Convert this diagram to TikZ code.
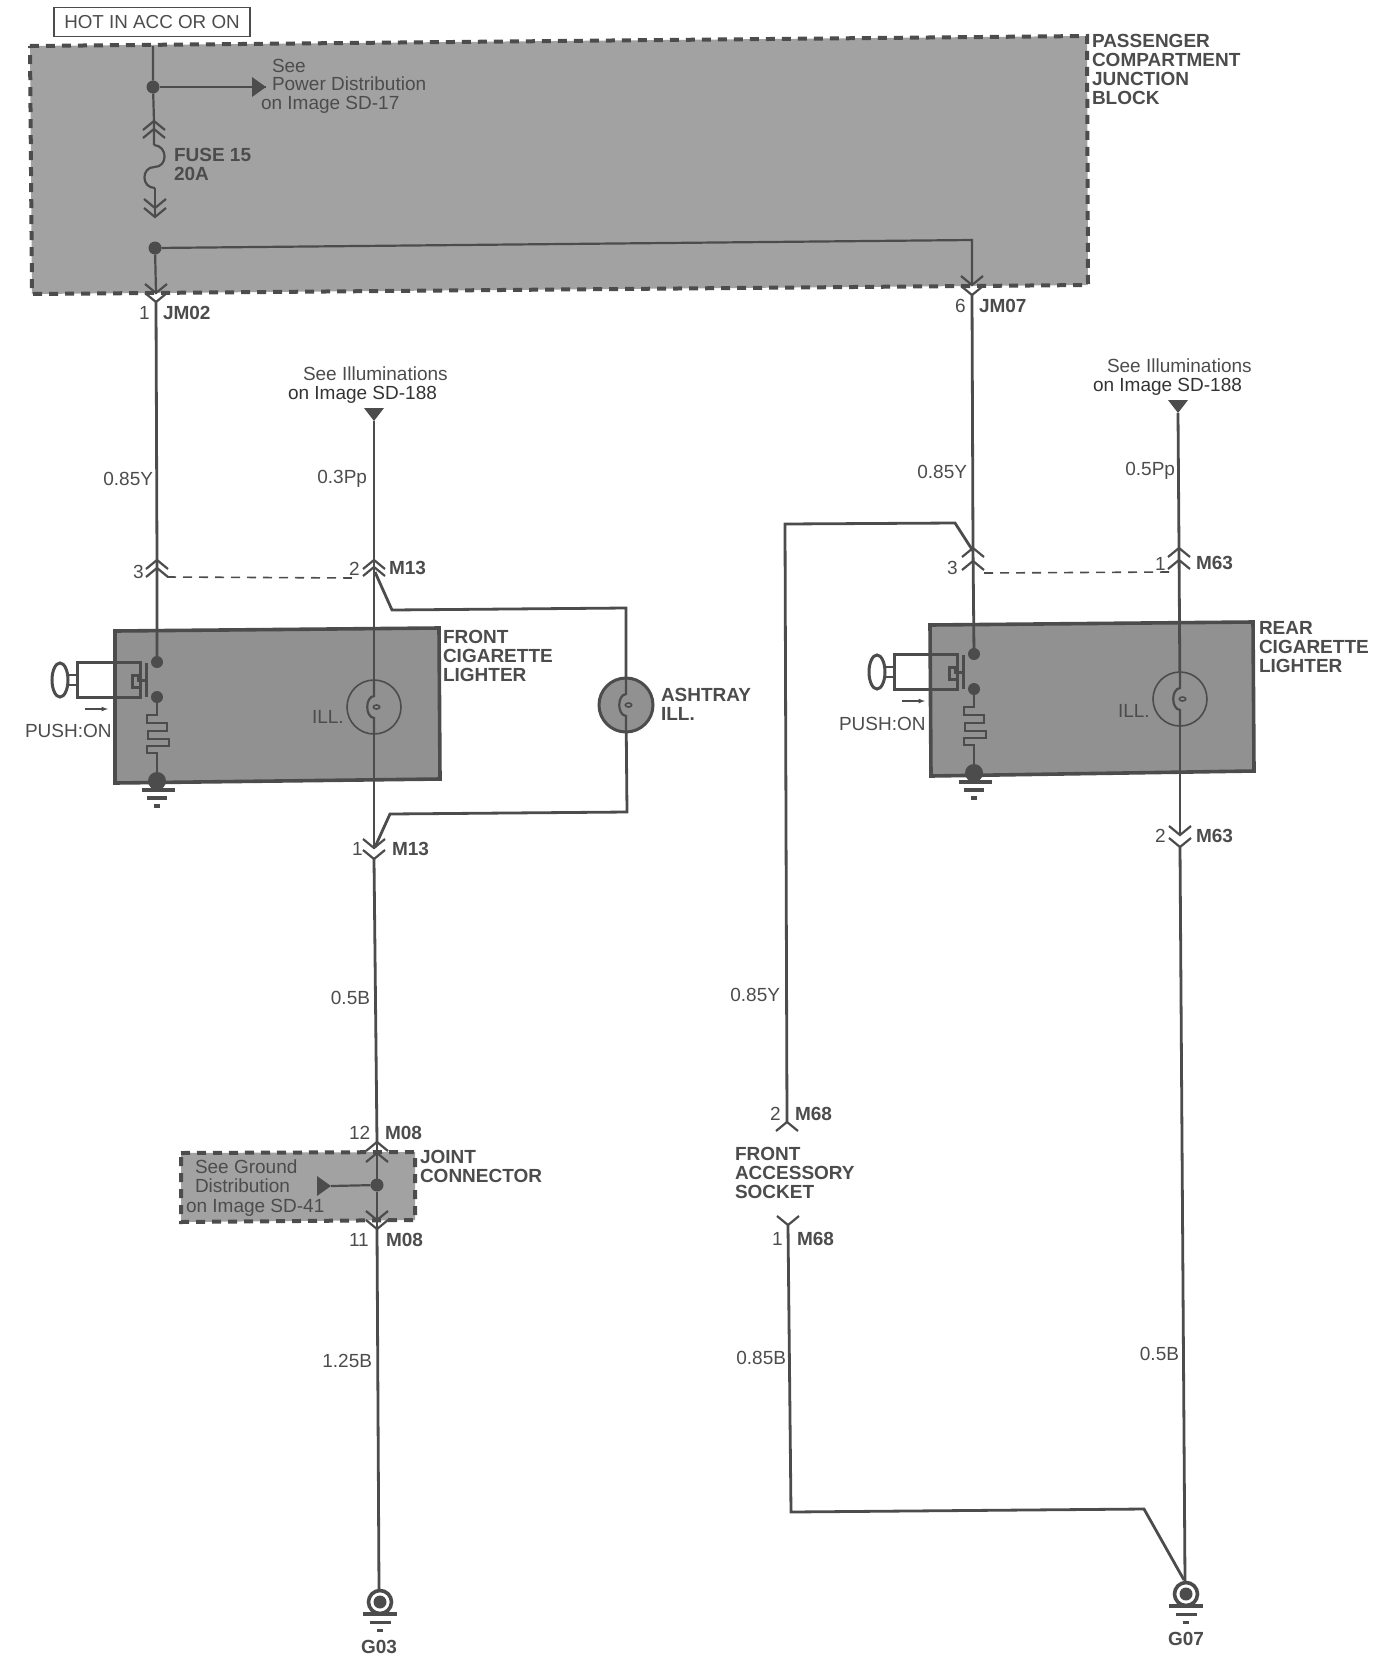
\documentclass[tikz,border=0pt]{standalone}
\usepackage{fontspec}
\setmainfont{Liberation Sans}
\definecolor{wirecol}{HTML}{4C4C4C}
\definecolor{txtcol}{HTML}{4C4C4C}
\definecolor{jbcol}{HTML}{A2A2A2}
\definecolor{boxcol}{HTML}{919191}
\begin{document}
\begin{tikzpicture}[x=1pt,y=-1pt]
\tikzset{ >=latex, inner sep=0pt, outer sep=0pt,
  wire/.style={draw=wirecol, line width=2.8pt},
  wirein/.style={draw=wirecol, line width=2.2pt},
  dash1/.style={draw=wirecol, line width=1.6pt, dash pattern=on 9pt off 7pt},
  jblock/.style={fill=jbcol, draw=wirecol, line width=4pt, dash pattern=on 9pt off 7pt},
  cigbox/.style={fill=boxcol, draw=wirecol, line width=3.6pt},
  dot/.style={circle, fill=wirecol, minimum size=13pt},
  lampc/.style={circle, draw=wirecol, line width=1.6pt, minimum size=54pt},
  lbl/.style={anchor=base west, text=txtcol, font=\fontsize{19}{19}\selectfont},
  lblr/.style={anchor=base east, text=txtcol, font=\fontsize{19}{19}\selectfont},
  blbl/.style={anchor=base west, text=txtcol, font=\fontsize{19}{19}\selectfont\bfseries},
  blk/.style={anchor=north west, align=left, text=txtcol, font=\fontsize{19}{19}\selectfont\bfseries},
  chevup/.pic={\draw[wirein] (-11,9)--(0,0)--(11,9);},
  chevdn/.pic={\draw[wirein] (-11,-9)--(0,0)--(11,-9);},
  tridn/.pic={\fill[wirecol] (-10,-13)--(10,-13)--(0,0)--cycle;},
  trirt/.pic={\fill[wirecol] (-14,-10)--(-14,10)--(0,0)--cycle;},
  filament/.pic={
    \draw[wirein] (0,-27)--(0,-11) .. controls (-9,-10) and (-9,10) .. (0,11)--(0,27);
    \draw[wirecol, line width=1.6pt] (2.5,0) ellipse (3.2 and 2);},
  gnd/.pic={
    \draw[wirecol, line width=3.6pt] (0,0) circle (11.5);
    \fill[wirecol] (0,0) circle (6.5);
    \draw[wirecol, line width=3.8pt] (-17,12)--(17,12);
    \draw[wirecol, line width=3pt] (-10.5,20)--(10.5,20);
    \draw[wirecol, line width=3pt] (-3,28)--(3,28);},
  lighter/.pic={
    \draw[wirein] (0,35)--(0,53)--(-10,53)--(-10,61)--(10,61)--(10,69)--(-9,69)--(-9,77)
      --(12,77)--(12,84)--(-10,84)--(-10,91)--(0,91)--(0,119);
    \fill[wirecol] (0,0) circle (6) (0,35) circle (6) (0,119) circle (9);
    \draw[wirecol, line width=4pt] (-15,128)--(18,128);
    \draw[wirecol, line width=3.2pt] (-10,136)--(10,136);
    \draw[wirecol, line width=3.2pt] (-3,144)--(3,144);
    \draw[wirecol, line width=3pt] (-17,0)--(-80,0)--(-80,35)--(-17,35)--cycle;
    \draw[wirecol, line width=3pt] (-11,1)--(-11,35);
    \draw[wirecol, line width=3pt] (-11,18)--(-19,18)--(-19,13)--(-25,13)--(-25,25)--(-17,25);
    \draw[wirecol, line width=2.6pt] (-89,13)--(-80,13) (-89,23)--(-80,23);
    \draw[wirecol, line width=3pt] (-97,18) ellipse (8 and 17);
    \draw[->, wirecol, line width=1.2pt] (-72,47)--(-49,47);},
}

%\draw [lightgray, dashed](0,0) grid (1389,1668);
\useasboundingbox (0,0) rectangle (1389,1668);

% grey blocks
\draw [jblock] (30,46)--(1087,36)--(1088,285)--(32,294)--cycle;
\draw [cigbox] (115,631)--(439,628)--(440,779)--(115,783)--cycle;
\draw [cigbox] (930,625)--(1253,622)--(1254,771)--(931,776)--cycle;
\draw [jblock] (181,1153)--(415,1152)--(415,1220)--(181,1222)--cycle;

% labels
\node [draw=wirecol, line width=1.6pt, minimum width=196pt, minimum height=29pt, text=txtcol,
  font=\fontsize{18.8}{20}\selectfont] (HOT) at (152,22) {HOT IN ACC OR ON};

\node [lbl] (S1) at (272,72) {See};
\node [lbl] (S2) at (272,90) {Power Distribution};
\node [lbl] (S3) at (261,109) {on Image SD-17};
\node [blk] (FUSE) at (174,148) {FUSE 15\\20A};
\node [blk] (PCJB) at (1092,34) {PASSENGER\\COMPARTMENT\\JUNCTION\\BLOCK};

\node [lbl] (N1) at (139,319) {1};
\node [blbl] (JM02) at (163,319) {JM02};
\node [lbl] (N6) at (955,312) {6};
\node [blbl] (JM07) at (979,312) {JM07};

\node [lbl] (I1) at (303,380) {See Illuminations};
\node [lbl, text=black!80] (I2) at (288,399) {on Image SD-188};
\node [lbl] (I3) at (1107,372) {See Illuminations};
\node [lbl, text=black!80] (I4) at (1093,391) {on Image SD-188};

\node [lblr] (W1) at (153,485) {0.85Y};
\node [lblr] (W2) at (367,483) {0.3Pp};
\node [lblr] (W3) at (967,478) {0.85Y};
\node [lblr] (W4) at (1175,475) {0.5Pp};
\node [lblr] (W5) at (370,1004) {0.5B};
\node [lblr] (W6) at (780,1001) {0.85Y};
\node [lblr] (W7) at (372,1367) {1.25B};
\node [lblr] (W8) at (786,1364) {0.85B};
\node [lblr] (W9) at (1179,1360) {0.5B};

\node [lbl] (N3) at (133,578) {3};
\node [lbl] (N2) at (349,575) {2};
\node [blbl] (M13a) at (389,574) {M13};
\node [lbl] (N3r) at (947,574) {3};
\node [lbl] (N1r) at (1155,570) {1};
\node [blbl] (M63a) at (1196,569) {M63};

\node [blk] (FCL) at (443,630) {FRONT\\CIGARETTE\\LIGHTER};
\node [blk] (RCL) at (1259,621) {REAR\\CIGARETTE\\LIGHTER};
\node [blk] (ASH) at (661,688) {ASHTRAY\\ILL.};
\node [lbl] (ILLf) at (312,723) {ILL.};
\node [lbl] (ILLr) at (1118,717) {ILL.};
\node [lbl] (PUf) at (25,737) {PUSH:ON};
\node [lbl] (PUr) at (839,730) {PUSH:ON};

\node [lbl] (N1b) at (352,855) {1};
\node [blbl] (M13b) at (392,855) {M13};
\node [lbl] (N2b) at (1155,842) {2};
\node [blbl] (M63b) at (1196,842) {M63};

\node [lbl] (N12) at (349,1139) {12};
\node [blbl] (M08a) at (385,1139) {M08};
\node [lbl] (N11) at (349,1246) {11};
\node [blbl] (M08b) at (386,1246) {M08};
\node [blk] (JC) at (420,1150) {JOINT\\CONNECTOR};
\node [lbl] (G1) at (195,1173) {See Ground};
\node [lbl] (G2) at (195,1192) {Distribution};
\node [lbl] (G3) at (186,1212) {on Image SD-41};

\node [lbl] (N2m) at (770,1120) {2};
\node [blbl] (M68a) at (795,1120) {M68};
\node [blk] (FAS) at (735,1147) {FRONT\\ACCESSORY\\SOCKET};
\node [lbl] (N1m) at (772,1245) {1};
\node [blbl] (M68b) at (797,1245) {M68};

\node [blbl, anchor=base] (G03) at (379,1653) {G03};
\node [blbl, anchor=base] (G07) at (1186,1645) {G07};

% junction block wiring
\node [dot] (D1) at (153,87) {};
\node [dot] (D2) at (155,248) {};
\coordinate (TOP) at (153,46);
\coordinate (ARR1) at (266,87);
\coordinate (F1) at (154,121);
\coordinate (F2) at (154,145);
\coordinate (F3) at (155,188);
\coordinate (F4) at (155,217);
\coordinate (JA) at (156,293);
\coordinate (JB) at (156,302);
\coordinate (KA) at (972,285);
\coordinate (KB) at (972,295);
\coordinate (KC) at (972,240);

\draw [wirein] (TOP)--(D1)--(F1)--(F2);
\draw [wirein] (F2) .. controls (168,146) and (168,167) .. (154.5,167) .. controls (141,167) and (141,188) .. (F3);
\draw [wirein] (F3)--(F4);
\draw [wirein] (D2)--(JA);
\draw [wirein] (D2)--(KC)--(KA);
\draw [wirein] (D1)--(ARR1);
\pic at (ARR1) {trirt};
\pic at (F1) {chevup};
\pic at (154,129) {chevup};
\pic at (155,208) {chevdn};
\pic at (F4) {chevdn};
\pic at (JA) {chevdn};
\pic at (JB) {chevdn};
\pic at (KA) {chevdn};
\pic at (KB) {chevdn};

% front lighter
\coordinate (A3) at (157,560);
\coordinate (A4) at (157,662);
\coordinate (B1) at (374,421);
\coordinate (B2) at (374,560);
\coordinate (B3) at (374,848);
\coordinate (B4) at (374,859);
\node [lampc] (LF) at (374,707) {};
\node [lampc, fill=boxcol, line width=3pt] (LA) at (626,705) {};
\coordinate (E1) at (375,572);
\coordinate (E2) at (392,610);
\coordinate (E3) at (626,608);
\coordinate (E4) at (627,812);
\coordinate (E5) at (390,814);
\coordinate (E6) at (375,847);
\coordinate (H1) at (167,577);
\coordinate (H2) at (355,578);

\draw [wire] (JB)--(A3)--(A4);
\draw [wire] (B1)--(B2)--(LF);
\draw [wire] (LF)--(B3);
\draw [wire] (E1)--(E2)--(E3)--(LA);
\draw [wire] (LA)--(E4)--(E5)--(E6);
\draw [dash1] (H1)--(H2);
\pic at (LF) {filament};
\pic at (LA) {filament};
\pic at (A4) {lighter};
\pic at (B1) {tridn};
\pic at (A3) {chevup};
\pic at (157,568) {chevup};
\pic at (B2) {chevup};
\pic at (374,567) {chevup};
\pic at (B3) {chevdn};
\pic at (B4) {chevdn};

% rear lighter
\coordinate (R3) at (973,548);
\coordinate (R4) at (974,654);
\coordinate (Q1) at (1178,413);
\coordinate (Q2) at (1179,548);
\coordinate (Q3) at (1180,835);
\coordinate (Q4) at (1180,847);
\node [lampc] (LR) at (1180,699) {};
\coordinate (P1) at (973,551);
\coordinate (P2) at (955,523);
\coordinate (P3) at (785,524);
\coordinate (P4) at (787,1122);
\coordinate (H3) at (984,573);
\coordinate (H4) at (1169,572);

\draw [wire] (KB)--(R3)--(R4);
\draw [wire] (Q1)--(Q2)--(LR);
\draw [wire] (LR)--(Q3);
\draw [wire] (P1)--(P2)--(P3)--(P4);
\draw [dash1] (H3)--(H4);
\pic at (LR) {filament};
\pic at (R4) {lighter};
\pic at (Q1) {tridn};
\pic at (R3) {chevup};
\pic at (973,561) {chevup};
\pic at (Q2) {chevup};
\pic at (1179,560) {chevup};
\pic at (Q3) {chevdn};
\pic at (Q4) {chevdn};

% accessory socket
\coordinate (S4) at (788,1225);
\coordinate (S5) at (791,1512);
\coordinate (S6) at (1144,1509);
\coordinate (S7) at (1184,1580);
\pic at (P4) {chevup};
\pic at (S4) {chevdn};
\draw [wire] (S4)--(S5)--(S6)--(S7);

% joint connector
\coordinate (C1) at (377,1142);
\coordinate (C2) at (377,1153);
\coordinate (C3) at (377,1220);
\coordinate (C4) at (377,1229);
\coordinate (ARR2) at (331,1186);
\node [dot] (D3) at (377,1185) {};
\draw [wire] (B4)--(C1);
\draw [wirein] (C1)--(D3)--(C4);
\draw [wirein] (D3)--(ARR2);
\pic at (ARR2) {trirt};
\pic at (C1) {chevup};
\pic at (C2) {chevup};
\pic at (C3) {chevdn};
\pic at (C4) {chevdn};

% grounds
\coordinate (GA) at (380,1602);
\coordinate (GB) at (1186,1594);
\draw [wire] (C4)--(379,1590);
\draw [wire] (Q4)--(1185,1581);
\pic at (GA) {gnd};
\pic at (GB) {gnd};

\end{tikzpicture}
\end{document}
